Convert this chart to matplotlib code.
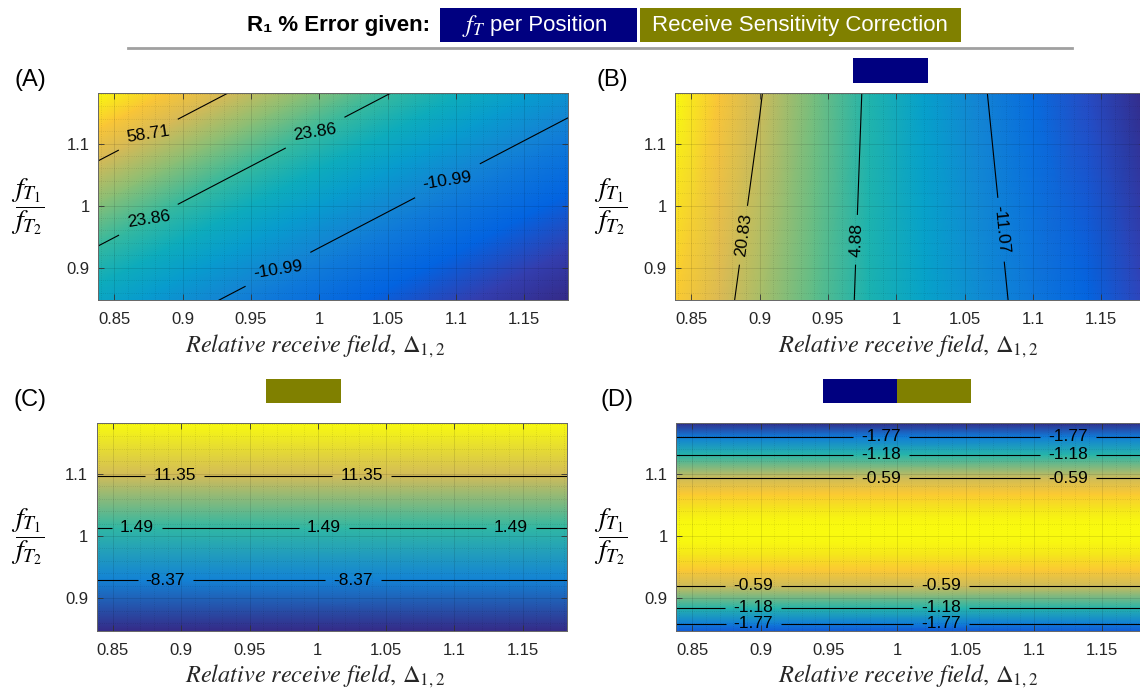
import numpy as np
import matplotlib
matplotlib.use("Agg")
import matplotlib.pyplot as plt
from matplotlib.colors import LinearSegmentedColormap
from matplotlib.patches import Rectangle
from matplotlib.lines import Line2D
from matplotlib.ticker import FuncFormatter, MultipleLocator

plt.rcParams['font.family'] = ['Liberation Sans', 'DejaVu Sans']
plt.rcParams['mathtext.fontset'] = 'stix'

# parula, every 4th entry of the 64 step table
parula_pts = [(0, (0.2081, 0.1663, 0.5292)), (4, (0.1959, 0.2645, 0.7279)),
              (8, (0.0117, 0.3875, 0.8820)), (12, (0.0498, 0.4586, 0.8641)),
              (16, (0.0793, 0.5200, 0.8312)), (20, (0.0343, 0.5966, 0.8199)),
              (24, (0.0228, 0.6535, 0.7768)), (28, (0.0843, 0.6928, 0.7062)),
              (32, (0.2178, 0.7250, 0.6193)), (36, (0.3953, 0.7459, 0.5244)),
              (40, (0.5709, 0.7485, 0.4494)), (44, (0.7184, 0.7411, 0.3905)),
              (48, (0.8507, 0.7299, 0.3360)), (52, (0.9739, 0.7314, 0.2666)),
              (56, (0.9880, 0.8066, 0.1794)), (60, (0.9589, 0.8949, 0.1132)),
              (63, (0.9763, 0.9831, 0.0538))]
parula = LinearSegmentedColormap.from_list('parula', [(i/63.0, c) for i, c in parula_pts])

# ---- data (R1 % error) ----
x_ticks = [0.85, 0.9, 0.95, 1.0, 1.05, 1.1, 1.15]
y_ticks = [0.9, 1.0, 1.1]
xlim = (0.838, 1.182); ylim = (0.848, 1.182)

# (A) both effects: error is constant along straight lines of slope a_slope,
# a_s = height of that line at x = 1
a_slope = 1.15
a_s = [0.638, 0.72, 0.81, 0.90, 0.9322, 1.00, 1.06, 1.1214, 1.19, 1.2585, 1.31, 1.369]
a_err = [-46.8, -39.4, -28.8, -16.5, -11.0, -0.2, 11.0, 23.9, 39.9, 58.75, 73.3, 92.7]
a_levels = [-10.99, 23.86, 58.71]
a_lab = [(0.875, 1.105), (0.875, 0.972), (0.997, 1.1135), (1.0937, 1.044), (0.9695, 0.9075)]

# (B) fT per position
b_x = [0.838, 0.87, 0.90, 0.94, 0.98, 1.02, 1.06, 1.10, 1.14, 1.182]
b_y = [0.848, 1.182]
b_err = [[30.3, 23.2, 17.1, 9.7, 3.1, -2.9, -8.4, -13.3, -17.8, -22.2],
         [38.2, 29.0, 21.3, 12.0, 3.8, -3.6, -10.1, -16.0, -21.3, -26.4]]
b_levels = [-11.07, 4.88, 20.83]
b_lab = [(0.8858, 0.953), (0.9708, 0.945), (1.0757, 0.961)]

# (C) receive sensitivity correction
c_x = [0.838, 1.182]
c_y = [0.848, 0.93, 1.013, 1.097, 1.182]
c_err = [-17.9, -8.3, 1.5, 11.35, 21.3]
c_levels = [-8.37, 1.49, 11.35]
c_lab = [(0.895, 1.097), (1.032, 1.097), (0.8673, 1.0126), (1.0045, 1.0126),
         (1.1412, 1.0126), (0.8885, 0.929), (1.0257, 0.929)]

# (D) both corrections
d_x = [0.838, 1.182]
d_y = [0.848, 0.8584, 0.8845, 0.9194, 0.945, 0.97, 0.99, 1.007, 1.025, 1.045,
       1.068, 1.0939, 1.1308, 1.1598, 1.182]
d_err = [-2.02, -1.78, -1.19, -0.60, -0.30, -0.106, -0.022, 0.0, -0.025, -0.112,
         -0.288, -0.60, -1.19, -1.78, -2.27]
d_levels = [-1.77, -1.18, -0.59]
d_lab = [(0.988, 1.1598), (0.988, 1.1308), (0.988, 1.0939),
         (1.125, 1.1598), (1.125, 1.1308), (1.125, 1.0939),
         (0.8946, 0.9194), (0.8946, 0.8845), (0.8946, 0.8584),
         (1.0319, 0.9194), (1.0319, 0.8845), (1.0319, 0.8584)]

W, H = 1140, 688
fig = plt.figure(figsize=(W/100.0, H/100.0), dpi=100)

def frac(x0, y0, x1, y1):
    return [x0/W, 1-y1/H, (x1-x0)/W, (y1-y0)/H]

def box(x0, y0, x1, y1, col):
    fig.add_artist(Rectangle((x0/W, 1-y1/H), (x1-x0)/W, (y1-y0)/H,
                             transform=fig.transFigure, facecolor=col, edgecolor='none'))

def panel(rect, X, Y, Z, levels, labpos, letter, lx, ly, yl_x, xl_x, xl_y):
    ax = fig.add_axes(frac(*rect))
    Z = np.asarray(Z)
    ax.pcolormesh(X, Y, Z, cmap=parula, shading='gouraud')
    cs = ax.contour(X, Y, Z, levels=levels, colors='k', linewidths=0.8,
                    linestyles='solid')
    ax.clabel(cs, levels, inline=True, inline_spacing=8, fmt='%.2f', fontsize=12.5,
              colors='k', manual=labpos)
    ax.set_xlim(*xlim); ax.set_ylim(*ylim)
    ax.set_xticks(x_ticks); ax.set_yticks(y_ticks)
    ax.xaxis.set_minor_locator(MultipleLocator(0.01))
    ax.yaxis.set_minor_locator(MultipleLocator(0.02))
    fmt = FuncFormatter(lambda v, p: '%g' % round(v, 3))
    ax.xaxis.set_major_formatter(fmt); ax.yaxis.set_major_formatter(fmt)
    ax.tick_params(which='major', direction='in', top=True, right=True, length=4,
                   width=0.6, color='#333333', labelsize=12, labelcolor='#262626')
    ax.tick_params(axis='x', pad=9)
    ax.tick_params(axis='y', pad=6)
    ax.tick_params(which='minor', length=0)
    ax.grid(True, which='major', color='k', alpha=0.12, lw=0.6)
    ax.grid(True, which='minor', color='k', alpha=0.12, lw=0.6, ls=':')
    for s in ax.spines.values():
        s.set_color('#666666'); s.set_linewidth(0.7)
    fig.text(lx/W, 1-ly/H, letter, fontsize=17, ha='center', va='center')
    fig.text(yl_x/W, 1-(rect[1]+114)/H, r'$\dfrac{f_{T_1}}{f_{T_2}}$', fontsize=20,
             ha='center', va='center')
    fig.text(xl_x/W, 1-xl_y/H, r'$Relative\ receive\ field,\,\Delta_{1,2}$',
             fontsize=17.5, ha='center', va='center', color='#262626')
    return ax

# A: grid of straight iso-lines y = s + slope*(x - 1)
ax_ends = np.array(xlim)
AX = np.tile(ax_ends, (len(a_s), 1))
AY = np.array(a_s)[:, None] + a_slope*(AX - 1.0)
AZ = np.tile(np.array(a_err)[:, None], (1, 2))
panel((98, 92.7, 568, 300), AX, AY, AZ, a_levels, a_lab, '(A)', 30, 80, 28, 315, 346)

BX, BY = np.meshgrid(b_x, b_y)
panel((675, 92.7, 1145, 300), BX, BY, b_err, b_levels, b_lab, '(B)', 612, 80, 611, 908, 346)

CX, CY = np.meshgrid(c_x, c_y)
panel((96.5, 422.7, 566.5, 630.7), CX, CY, np.column_stack([c_err, c_err]), c_levels,
      c_lab, '(C)', 30, 400, 28, 315, 676)

DX, DY = np.meshgrid(d_x, d_y)
panel((676, 422.7, 1146, 630.7), DX, DY, np.column_stack([d_err, d_err]), d_levels,
      d_lab, '(D)', 617, 400, 611, 908, 676)

# header legend
navy = '#000080'; olive = '#808000'
box(440, 8, 637, 42, navy)
box(640, 8, 961, 42, olive)
hfont = ['Liberation Sans Narrow', 'Liberation Sans', 'DejaVu Sans']
fig.text(430/W, 1-25/H, 'R\u2081 % Error given:', family=hfont, weight='bold',
         fontsize=16, ha='right', va='center')
fig.text(474/W, 1-26/H, r'$f_T$', fontsize=18, color='w', ha='center', va='center')
fig.text(490/W, 1-25/H, 'per Position', family=hfont, fontsize=16, color='w',
         ha='left', va='center')
fig.text(800/W, 1-25/H, 'Receive Sensitivity Correction', family=hfont, fontsize=16,
         color='w', ha='center', va='center')
fig.add_artist(Line2D([128/W, 1072/W], [1-48/H, 1-48/H], color='#a0a0a0', lw=2,
                      transform=fig.transFigure))

# small markers above panels
box(853, 58, 928, 83, navy)
box(266, 379, 341, 403, olive)
box(823, 379, 897, 403, navy)
box(897, 379, 971, 403, olive)

fig.savefig('out.png', dpi=100)
